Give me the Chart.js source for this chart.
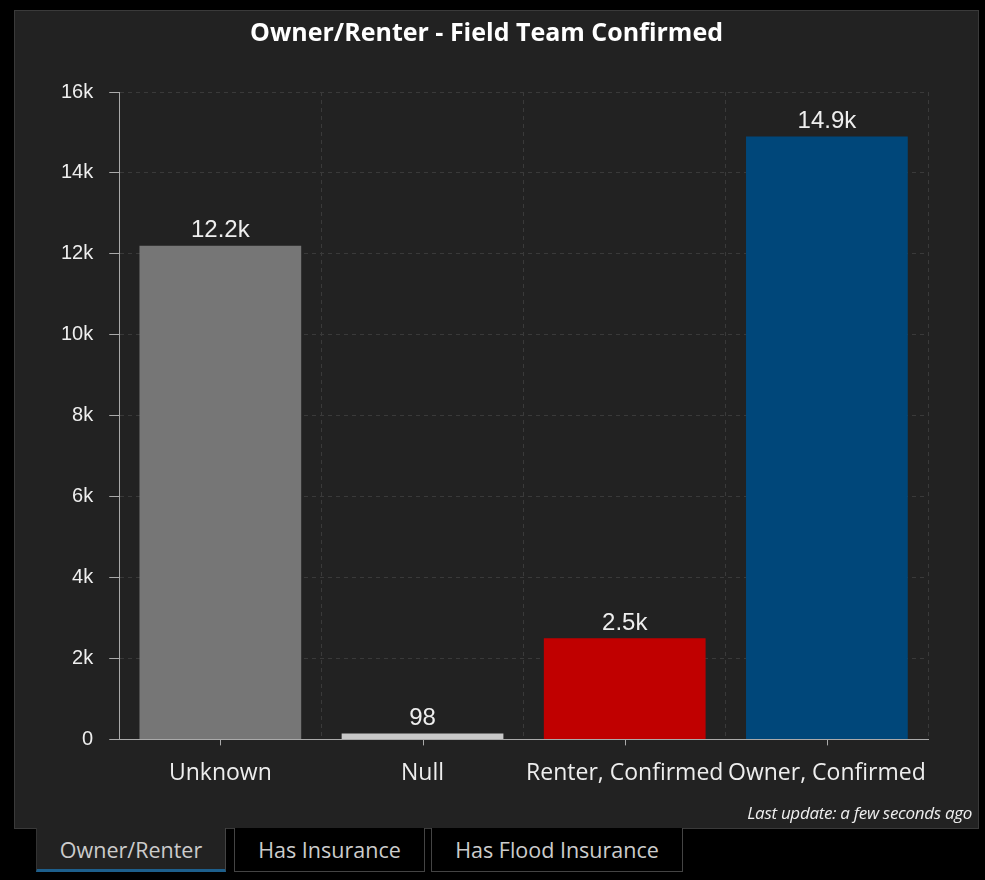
<!DOCTYPE html>
<html>
<head>
<meta charset="utf-8">
<script src="https://cdn.jsdelivr.net/npm/chart.js@4/dist/chart.umd.min.js"></script>
<style>
  body { margin: 0; background: #000; width: 985px; height: 880px; overflow: hidden; font-family: "Open Sans", sans-serif; }
  #panel { position: absolute; left: 14px; top: 10px; width: 963px; height: 817px; background: #222; border: 1px solid #3a3a3a; }
  #panel canvas { position: absolute; left: 0; top: 0; }
  #updated { position: absolute; right: 6px; bottom: 4px; color: #eee; font-style: italic; font-size: 17px; letter-spacing: -0.3px; }
  .tab { position: absolute; top: 828px; height: 44px; line-height: 44px; text-align: center; color: #ccc; font-size: 21.5px; border: 1px solid #444; border-top: none; background: #000; box-sizing: border-box; }
  .tab.active { background: #222; border-bottom: 3px solid #1d5f8c; border-left: 1px solid #333; }
</style>
</head>
<body>
<div id="panel">
  <canvas id="chart" width="963" height="817"></canvas>
  <div id="updated">Last update: a few seconds ago</div>
</div>
<div class="tab active" style="left:36px;width:190px;">Owner/Renter</div>
<div class="tab" style="left:234px;width:191px;">Has Insurance</div>
<div class="tab" style="left:431px;width:252px;">Has Flood Insurance</div>
<script>
const categories = ['Unknown', 'Null', 'Renter, Confirmed', 'Owner, Confirmed'];
const counts = [12200, 98, 2500, 14900];
const barColors = ['#767676', '#c8c8c8', '#c00000', '#00477a'];
const yTicks = [0, 2000, 4000, 6000, 8000, 10000, 12000, 14000, 16000];

function shortNum(v) {
  if (v >= 1000) return (v / 1000).toFixed(1).replace(/\.0$/, '') + 'k';
  return String(v);
}

// value labels above each bar
const valueLabels = {
  id: 'valueLabels',
  afterDatasetsDraw(chart) {
    const ctx = chart.ctx;
    const meta = chart.getDatasetMeta(0);
    ctx.save();
    ctx.fillStyle = '#eee';
    ctx.font = '24px "Liberation Sans", Arial, sans-serif';
    ctx.textAlign = 'center';
    ctx.textBaseline = 'bottom';
    meta.data.forEach((bar, i) => {
      ctx.fillText(shortNum(counts[i]), bar.x, bar.y - 3);
    });
    ctx.restore();
  }
};

// small tick marks under the x axis at each category centre
const xTickMarks = {
  id: 'xTickMarks',
  afterDraw(chart) {
    const ctx = chart.ctx;
    const x = chart.scales.x;
    ctx.save();
    ctx.strokeStyle = '#aaa';
    ctx.lineWidth = 1;
    categories.forEach((c, i) => {
      const px = Math.round(x.getPixelForValue(i)) + 0.5;
      ctx.beginPath();
      ctx.moveTo(px, x.top);
      ctx.lineTo(px, x.top + 6);
      ctx.stroke();
    });
    ctx.restore();
  }
};

new Chart(document.getElementById('chart'), {
  type: 'bar',
  data: {
    labels: categories,
    datasets: [{
      data: counts,
      backgroundColor: barColors,
      barPercentage: 0.8,
      categoryPercentage: 1,
      minBarLength: 6
    }]
  },
  options: {
    responsive: false,
    animation: false,
    layout: { padding: { left: 30, right: 50, top: 0, bottom: 21 } },
    plugins: {
      legend: { display: false },
      tooltip: { enabled: false },
      title: {
        display: true,
        text: 'Owner/Renter - Field Team Confirmed',
        color: '#fff',
        font: { family: '"Open Sans", sans-serif', size: 25, weight: 'bold' },
        padding: { top: 8, bottom: 43 }
      }
    },
    scales: {
      x: {
        grid: { color: '#3a3a3a', drawTicks: false },
        border: { color: '#aaa', dash: [4, 4] },
        ticks: { color: '#eee', padding: 20, maxRotation: 0, font: { family: '"Open Sans", sans-serif', size: 23 } }
      },
      y: {
        min: 0,
        max: 16000,
        afterBuildTicks(axis) { axis.ticks = yTicks.map(v => ({ value: v })); },
        grid: { color: '#3a3a3a', tickColor: '#aaa', tickLength: 10 },
        border: { color: '#aaa', dash: [4, 4] },
        ticks: {
          color: '#eee',
          padding: 16,
          font: { family: '"Liberation Sans", Arial, sans-serif', size: 20 },
          callback: v => shortNum(v)
        }
      }
    }
  },
  plugins: [valueLabels, xTickMarks]
});
</script>
</body>
</html>
